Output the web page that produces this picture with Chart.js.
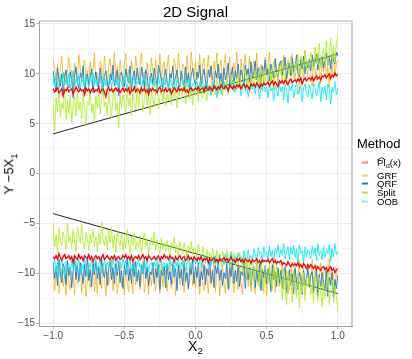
<!DOCTYPE html>
<html>
<head>
<meta charset="utf-8">
<script src="https://cdn.jsdelivr.net/npm/chart.js@4"></script>
<style>
  body { margin: 0; background: #fff; }
  #wrap { position: relative; width: 412px; height: 359px; font-family: "Liberation Sans", Arial, sans-serif; color: #000; }
  #chart { position: absolute; left: 0; top: 0; }
  .lbl { position: absolute; white-space: nowrap; transform: translate(-50%, -50%); }
  #title { left: 195.5px; top: 11px; font-size: 15px; }
  #xtitle { left: 195.5px; top: 347px; font-size: 14px; }
  #ytitle { left: 10px; top: 174px; font-size: 13px; transform: translate(-50%, -50%) rotate(-90deg); }
  #legtitle { left: 357px; top: 143px; font-size: 13px; position: absolute; transform: translateY(-50%); }
  .row { position: absolute; left: 361.5px; font-size: 9.5px; line-height: 11px; transform: translateY(-50%); white-space: nowrap; }
  .key { display: inline-block; width: 6.5px; height: 2px; vertical-align: middle; margin-right: 9px; }
  .hat { position: relative; display: inline-block; }
  .hat::before { content: '^'; position: absolute; left: 0; right: 0; top: -3px; text-align: center; font-size: 8px; transform: scaleX(2.4); }
  sub { font-size: 70%; }
</style>
</head>
<body>
<div id="wrap">
  <canvas id="chart" width="412" height="359"></canvas>
  <div id="title" class="lbl">2D Signal</div>
  <div id="xtitle" class="lbl">X<sub>2</sub></div>
  <div id="ytitle" class="lbl">Y −5X<sub>1</sub></div>
  <div id="legtitle">Method</div>
  <div class="row" style="top:164px"><span class="key" style="background:#F58A8A"></span><span class="hat">PI</span><sub>α</sub>(x)</div>
  <div class="row" style="top:174.5px"><span class="key" style="background:#F7D27F"></span>GRF</div>
  <div class="row" style="top:183px"><span class="key" style="background:#1E78D2"></span>QRF</div>
  <div class="row" style="top:192px"><span class="key" style="background:#B2EE3A"></span>Split</div>
  <div class="row" style="top:200.5px"><span class="key" style="background:#7FF3F7"></span>OOB</div>
</div>
<script>
// x grid
var xs = [-1,-0.99,-0.98,-0.97,-0.96,-0.95,-0.94,-0.93,-0.92,-0.91,
  -0.9,-0.89,-0.88,-0.87,-0.86,-0.85,-0.84,-0.83,-0.82,-0.81,
  -0.8,-0.79,-0.78,-0.77,-0.76,-0.75,-0.74,-0.73,-0.72,-0.71,
  -0.7,-0.69,-0.68,-0.67,-0.66,-0.65,-0.64,-0.63,-0.62,-0.61,
  -0.6,-0.59,-0.58,-0.57,-0.56,-0.55,-0.54,-0.53,-0.52,-0.51,
  -0.5,-0.49,-0.48,-0.47,-0.46,-0.45,-0.44,-0.43,-0.42,-0.41,
  -0.4,-0.39,-0.38,-0.37,-0.36,-0.35,-0.34,-0.33,-0.32,-0.31,
  -0.3,-0.29,-0.28,-0.27,-0.26,-0.25,-0.24,-0.23,-0.22,-0.21,
  -0.2,-0.19,-0.18,-0.17,-0.16,-0.15,-0.14,-0.13,-0.12,-0.11,
  -0.1,-0.09,-0.08,-0.07,-0.06,-0.05,-0.04,-0.03,-0.02,-0.01,
  0,0.01,0.02,0.03,0.04,0.05,0.06,0.07,0.08,0.09,
  0.1,0.11,0.12,0.13,0.14,0.15,0.16,0.17,0.18,0.19,
  0.2,0.21,0.22,0.23,0.24,0.25,0.26,0.27,0.28,0.29,
  0.3,0.31,0.32,0.33,0.34,0.35,0.36,0.37,0.38,0.39,
  0.4,0.41,0.42,0.43,0.44,0.45,0.46,0.47,0.48,0.49,
  0.5,0.51,0.52,0.53,0.54,0.55,0.56,0.57,0.58,0.59,
  0.6,0.61,0.62,0.63,0.64,0.65,0.66,0.67,0.68,0.69,
  0.7,0.71,0.72,0.73,0.74,0.75,0.76,0.77,0.78,0.79,
  0.8,0.81,0.82,0.83,0.84,0.85,0.86,0.87,0.88,0.89,
  0.9,0.91,0.92,0.93,0.94,0.95,0.96,0.97,0.98,0.99,1];

// upper bounds
var piUpper = [8.5,8.2,8.4,8.6,8.1,8.3,8.5,7.8,8.4,8.3,
  8.6,8.2,8.4,8.5,8.0,8.3,8.7,8.4,8.2,8.5,
  8.3,8.4,7.9,8.6,8.3,8.5,8.1,8.4,8.6,8.2,
  8.4,8.3,8.7,8.1,8.4,8.5,8.2,7.7,8.4,8.6,
  8.3,8.5,8.2,8.4,8.6,8.3,8.5,8.1,8.4,8.6,
  8.2,8.5,8.3,8.6,8.0,8.4,8.3,8.7,8.2,8.5,
  8.4,8.1,8.6,8.3,8.5,8.2,8.4,7.9,8.5,8.3,
  8.6,8.3,8.4,8.1,8.5,8.7,8.2,8.4,8.3,8.6,
  8.2,8.4,8.5,8.0,8.3,8.6,8.4,8.2,8.7,8.3,
  8.5,8.3,8.6,8.2,8.4,8.1,8.5,8.6,8.3,8.4,
  8.6,8.4,8.7,8.3,8.5,8.6,8.2,8.7,8.5,8.4,
  8.7,8.5,8.3,8.8,8.6,8.4,8.7,8.5,8.9,8.6,
  8.5,8.8,8.6,8.3,8.9,8.7,8.5,8.8,8.6,8.9,
  8.7,8.9,8.5,8.8,9.0,8.6,8.9,8.7,8.4,9.0,
  8.8,9.0,8.7,9.1,8.9,8.6,9.0,8.8,9.1,8.9,
  9.0,9.2,8.8,9.1,9.3,8.9,9.2,9.0,8.7,9.3,
  9.1,9.3,9.0,9.4,9.2,8.9,9.3,9.5,9.1,9.3,
  9.4,9.2,9.5,9.3,9.6,9.0,9.4,9.6,9.3,9.5,
  9.6,9.4,9.7,9.3,9.6,9.8,9.5,9.7,9.4,9.8,
  9.7,9.9,9.6,9.8,10.0,9.5,9.9,9.7,10.1,9.8,10.0];
var grfUpper = [11.3,10.6,9.4,11.0,8.7,10.2,11.8,9.6,10.1,8.9,
  10.5,11.7,9.8,10.4,8.5,11.1,10.0,9.2,12.0,10.6,
  9.1,10.7,11.4,9.5,10.3,8.8,11.2,9.9,10.5,12.1,
  9.3,10.1,8.9,11.3,10.6,9.0,11.8,10.2,8.6,10.9,
  11.5,9.6,10.3,12.2,9.2,10.7,9.4,11.4,10.1,8.8,
  10.9,12.0,9.7,10.4,8.4,11.3,10.3,9.5,11.8,10.5,
  9.1,10.8,12.1,9.7,10.2,7.9,11.1,10.0,9.4,11.6,
  10.3,8.7,11.4,10.2,9.6,12.0,9.3,10.7,11.2,8.9,
  10.5,11.9,9.4,10.1,8.5,11.5,10.8,9.2,12.1,10.4,
  9.5,11.0,10.6,8.3,11.8,10.1,9.3,12.2,10.6,9.8,
  11.2,9.4,10.5,12.0,8.8,10.9,11.6,9.0,10.3,11.9,
  9.6,10.8,8.2,11.3,10.0,12.1,9.5,10.6,11.4,8.7,
  10.9,12.0,9.1,10.4,11.7,8.9,10.2,11.1,9.7,12.2,
  10.0,8.5,11.5,9.9,10.7,12.0,9.2,10.3,11.8,8.8,
  10.6,11.3,9.4,12.1,10.1,8.6,11.0,10.4,9.0,11.7,
  9.8,10.9,12.2,9.3,10.5,8.4,11.6,10.0,9.5,11.2,
  10.8,9.1,11.9,10.3,8.9,11.4,10.6,9.7,12.0,10.2,
  9.4,11.1,10.5,8.1,11.8,10.2,9.6,12.3,10.7,9.9,
  11.3,10.0,8.8,11.6,10.4,9.3,12.1,10.8,9.0,11.5,
  10.2,11.9,9.5,10.7,8.6,11.4,10.1,12.2,9.8,11.0,11.4];
var qrfUpper = [10.3,9.1,8.2,10.6,9.5,8.8,10.0,7.9,9.7,10.4,
  9.0,8.6,10.2,9.4,7.6,9.9,10.7,9.2,8.5,10.1,
  9.6,10.8,8.3,9.3,10.0,8.9,9.7,10.5,8.1,9.4,
  10.2,9.0,8.7,10.6,9.5,8.0,9.8,10.3,9.1,8.6,
  10.0,9.4,10.9,8.8,9.6,10.4,7.8,9.9,10.2,9.3,
  8.7,10.5,9.6,9.1,10.8,8.4,9.8,10.3,9.0,10.6,
  9.5,8.9,10.7,9.8,8.6,10.4,9.9,8.2,9.2,10.1,
  9.0,10.6,9.7,8.8,10.9,10.2,9.4,8.5,9.8,10.5,
  9.3,8.4,10.0,9.6,10.8,8.9,9.7,10.4,9.1,8.7,
  10.3,9.5,8.6,10.7,9.2,10.1,8.3,9.9,10.6,9.4,
  8.9,10.2,9.6,10.9,8.7,9.8,10.5,9.3,8.5,10.4,
  9.7,10.8,9.1,8.8,10.3,9.6,11.0,9.2,10.1,8.6,
  10.6,9.4,10.0,11.1,9.0,9.8,10.7,8.9,10.3,9.5,
  11.0,9.3,10.4,9.7,8.8,10.9,9.9,10.5,9.2,11.2,
  9.6,10.2,11.3,9.4,10.6,9.9,8.9,10.8,10.1,11.4,
  9.8,10.5,9.3,11.0,10.3,9.6,11.5,10.0,9.7,10.9,
  11.3,9.9,10.6,11.7,9.5,10.4,11.1,9.8,11.6,10.2,
  10.7,11.9,10.1,9.7,11.4,10.5,11.8,10.0,11.2,10.6,
  11.5,10.3,11.9,10.8,11.1,12.0,10.4,11.6,10.9,11.8,
  10.6,11.4,12.1,10.9,11.7,10.5,12.0,11.3,11.0,12.2,11.8];
var splitUpper = [6.9,4.3,7.6,6.2,8.4,5.7,7.1,6.5,8.6,5.4,
  7.4,6.0,7.9,5.1,6.8,7.7,5.8,8.1,6.4,7.2,
  5.5,8.0,6.6,4.9,7.3,6.9,8.5,6.1,7.0,5.3,
  7.8,6.5,8.3,6.0,7.5,8.7,6.7,7.2,5.9,8.2,
  6.8,5.6,7.7,8.6,6.3,7.1,4.6,7.9,6.5,8.0,
  7.2,6.1,8.4,6.8,7.6,5.8,8.2,7.0,6.4,8.7,
  6.6,7.9,8.8,6.2,7.4,8.5,6.9,7.7,5.9,8.3,
  7.5,6.7,8.1,8.9,6.5,7.8,8.6,7.1,8.4,6.8,
  8.0,7.3,8.7,6.9,9.0,7.6,8.3,6.6,8.8,7.7,
  7.4,8.5,9.1,7.0,8.2,8.9,7.5,8.6,6.9,8.4,
  7.9,8.8,7.2,9.3,8.1,7.6,9.0,8.4,7.3,8.9,
  8.6,7.7,9.4,8.2,7.9,9.6,8.0,8.7,9.2,7.8,
  9.0,8.3,9.7,7.9,8.8,9.9,8.4,9.3,8.1,9.6,
  8.7,10.1,9.0,8.5,9.8,10.4,8.9,9.5,8.3,10.0,
  9.4,8.8,10.3,9.7,9.1,10.7,8.7,9.9,10.5,9.2,
  10.0,9.3,10.9,8.9,10.4,11.2,9.6,10.2,9.0,10.8,
  9.8,11.4,10.1,9.5,11.0,10.6,9.9,11.8,10.3,9.7,
  11.1,10.4,12.0,9.9,10.8,11.6,10.2,12.4,10.7,11.3,
  10.5,12.2,11.0,10.3,12.7,11.4,10.9,13.1,10.6,11.8,
  12.5,11.2,13.3,10.8,12.0,13.6,11.5,12.8,11.1,13.0,13.8];
var oobUpper = [9.5,8.8,9.9,9.1,8.4,9.7,9.2,10.2,8.9,9.4,
  9.0,10.0,8.6,9.3,10.3,8.8,9.5,9.1,9.8,8.5,
  9.6,9.2,8.7,9.9,9.4,8.6,9.7,9.1,10.1,8.9,
  9.4,8.7,9.6,9.9,8.5,9.2,9.7,8.8,9.3,9.0,
  9.5,8.6,9.8,9.1,8.9,9.4,8.4,9.6,9.0,8.7,
  9.8,9.0,8.5,9.5,10.1,8.8,9.3,9.7,8.6,9.2,
  9.0,9.6,8.3,9.4,9.9,8.9,9.1,8.6,9.7,9.3,
  8.8,9.5,9.1,8.4,9.8,9.0,8.7,9.6,8.9,9.4,
  9.2,8.5,9.7,9.0,8.6,9.5,8.3,9.3,9.1,8.8,
  9.6,8.9,9.0,8.4,9.4,8.7,9.5,8.2,9.1,8.9,
  8.6,9.3,8.2,9.0,8.7,9.5,8.1,8.9,9.2,8.4,
  8.8,7.9,9.1,8.5,8.9,7.6,8.6,9.2,8.0,8.7,
  9.3,8.5,8.9,8.1,9.0,8.6,9.4,8.2,8.8,8.4,
  8.7,9.1,7.8,8.6,9.3,8.3,8.9,7.7,8.5,9.0,
  8.4,8.9,8.0,9.2,8.6,7.5,8.8,8.3,9.1,8.2,
  8.7,7.6,9.0,8.3,8.6,7.3,8.8,8.4,7.8,9.1,
  8.2,8.7,7.4,8.9,8.5,7.1,8.8,8.3,9.0,7.6,
  8.5,9.2,7.9,8.4,8.8,7.2,8.6,9.0,8.1,7.7,
  8.9,8.3,7.5,9.1,8.6,7.8,8.4,9.3,7.2,8.7,
  8.1,8.8,7.4,9.0,8.5,7.0,8.7,8.2,9.2,7.9,8.6];

// lower bounds
var piLower = [-8.3,-8.5,-8.2,-8.6,-8.0,-8.4,-8.7,-8.3,-8.1,-8.5,
  -8.4,-8.2,-8.6,-8.3,-8.9,-8.2,-8.4,-8.6,-8.1,-8.5,
  -8.3,-8.7,-8.2,-8.4,-8.5,-8.1,-8.6,-8.3,-8.8,-8.4,
  -8.2,-8.5,-8.3,-8.7,-8.4,-8.1,-8.6,-8.4,-8.2,-8.5,
  -8.6,-8.3,-8.5,-8.2,-8.7,-8.4,-8.3,-8.6,-8.5,-8.2,
  -8.4,-8.1,-8.5,-8.3,-8.6,-8.2,-8.8,-8.4,-8.3,-8.5,
  -8.2,-8.6,-8.4,-8.1,-8.5,-8.3,-8.7,-8.2,-8.4,-8.6,
  -8.5,-8.3,-8.6,-8.4,-8.2,-8.7,-8.3,-8.5,-8.1,-8.4,
  -8.3,-8.6,-8.2,-8.5,-8.4,-8.8,-8.3,-8.6,-8.4,-8.2,
  -8.6,-8.4,-8.3,-8.7,-8.5,-8.2,-8.6,-8.4,-8.7,-8.3,
  -8.5,-8.7,-8.4,-8.6,-8.3,-8.8,-8.5,-8.6,-8.4,-8.9,
  -8.5,-8.7,-8.6,-8.4,-8.8,-8.6,-8.9,-8.5,-8.7,-8.6,
  -8.4,-8.7,-8.5,-8.8,-8.6,-8.3,-8.7,-8.6,-8.9,-8.5,
  -8.7,-8.5,-8.8,-8.6,-8.9,-8.5,-8.7,-8.8,-8.6,-9.0,
  -8.6,-8.8,-8.7,-8.5,-8.9,-8.7,-9.0,-8.6,-8.8,-8.7,
  -8.8,-8.6,-8.9,-8.7,-8.5,-8.9,-8.7,-9.0,-8.8,-8.9,
  -8.7,-9.1,-8.9,-9.0,-9.2,-8.8,-9.1,-9.3,-9.0,-9.2,
  -9.0,-9.2,-8.9,-9.3,-9.1,-9.4,-9.0,-9.2,-9.5,-9.1,
  -9.4,-9.1,-9.3,-9.5,-9.2,-9.6,-9.3,-9.5,-9.7,-9.4,
  -9.3,-9.6,-9.4,-9.8,-9.5,-9.3,-9.7,-9.5,-9.9,-9.6,-9.5];
var grfLower = [-9.3,-11.7,-10.2,-8.9,-12.0,-10.6,-9.5,-11.3,-10.0,-12.2,
  -9.1,-10.8,-11.6,-9.7,-10.3,-12.1,-8.8,-11.0,-10.5,-9.4,
  -11.9,-10.1,-9.6,-12.3,-10.7,-9.2,-11.4,-10.4,-8.7,-11.8,
  -10.0,-12.0,-9.5,-10.9,-11.5,-9.0,-10.6,-12.2,-9.8,-11.1,
  -10.3,-8.6,-11.7,-10.1,-9.4,-12.0,-10.8,-9.1,-11.3,-10.5,
  -12.1,-9.6,-10.9,-11.8,-9.2,-10.4,-12.0,-8.9,-11.1,-10.2,
  -9.7,-11.6,-10.3,-8.8,-11.9,-10.6,-9.3,-12.1,-10.0,-11.2,
  -9.5,-10.8,-11.7,-9.1,-10.4,-12.0,-8.7,-11.3,-10.1,-9.6,
  -11.8,-10.2,-8.9,-11.5,-10.7,-9.3,-12.2,-10.4,-9.0,-11.1,
  -10.6,-8.5,-11.9,-10.0,-9.4,-11.6,-10.3,-8.8,-11.2,-9.9,
  -11.4,-9.8,-10.5,-12.1,-9.0,-10.8,-11.7,-9.3,-10.2,-12.0,
  -9.6,-11.1,-10.4,-8.6,-11.8,-10.0,-9.4,-12.2,-10.7,-9.1,
  -10.9,-12.0,-9.5,-10.3,-11.5,-8.8,-10.6,-11.9,-9.7,-10.2,
  -11.6,-9.2,-10.8,-12.1,-9.9,-10.4,-8.7,-11.3,-10.1,-11.8,
  -9.4,-10.7,-12.0,-9.0,-11.2,-10.5,-8.9,-11.7,-10.3,-9.6,
  -12.2,-10.1,-9.3,-11.4,-10.8,-8.6,-11.9,-10.0,-9.5,-11.3,
  -10.4,-8.8,-11.6,-10.2,-9.7,-12.1,-10.6,-9.1,-11.0,-10.3,
  -9.2,-11.8,-10.5,-8.7,-11.3,-10.0,-9.4,-12.0,-10.8,-9.5,
  -11.1,-10.3,-8.6,-11.7,-10.1,-9.2,-11.9,-10.6,-8.9,-11.4,
  -10.0,-9.3,-11.5,-10.7,-8.5,-11.2,-9.8,-10.4,-11.8,-9.6,-10.7];
var qrfLower = [-8.9,-10.5,-9.3,-11.2,-8.6,-9.8,-10.9,-9.0,-9.5,-11.1,
  -8.7,-10.2,-9.4,-11.4,-9.7,-8.5,-10.6,-9.2,-10.8,-8.9,
  -9.8,-11.0,-9.1,-10.3,-8.3,-10.7,-9.6,-11.3,-9.0,-10.1,
  -8.8,-10.5,-9.3,-11.1,-8.6,-9.9,-10.4,-9.1,-11.2,-9.5,
  -8.7,-10.6,-9.4,-11.0,-9.0,-10.2,-8.8,-10.9,-9.7,-11.5,
  -9.2,-10.1,-8.4,-10.7,-9.5,-11.0,-9.0,-10.3,-8.8,-10.8,
  -9.6,-11.3,-9.1,-10.0,-8.6,-10.5,-9.4,-11.2,-9.8,-10.1,
  -8.9,-11.0,-9.5,-10.4,-9.1,-11.6,-9.7,-10.2,-9.3,-11.4,
  -9.0,-10.6,-9.8,-11.1,-8.8,-10.3,-9.5,-11.7,-9.2,-10.5,
  -9.6,-11.2,-9.0,-10.8,-9.9,-11.5,-9.4,-10.1,-8.7,-11.0,
  -9.3,-10.4,-8.9,-11.3,-9.8,-10.6,-9.1,-11.1,-9.5,-10.2,
  -8.6,-10.9,-9.7,-11.4,-9.2,-10.0,-8.8,-10.7,-9.6,-11.2,
  -9.9,-10.5,-9.0,-11.6,-9.4,-10.3,-8.9,-11.0,-9.7,-10.8,
  -9.1,-11.3,-9.8,-10.2,-8.7,-11.5,-9.5,-10.6,-9.2,-11.1,
  -10.0,-9.3,-11.4,-9.7,-10.8,-9.0,-11.7,-9.6,-10.4,-9.2,
  -11.0,-9.5,-10.3,-11.8,-9.1,-10.6,-9.8,-11.3,-9.4,-10.9,
  -9.7,-11.5,-10.1,-9.3,-11.9,-10.4,-9.6,-11.2,-10.0,-12.0,
  -9.5,-10.7,-11.6,-9.9,-10.3,-12.1,-9.7,-11.0,-10.5,-9.4,
  -11.4,-10.2,-9.8,-11.9,-10.6,-9.6,-12.2,-10.1,-11.3,-9.9,
  -10.8,-11.7,-9.7,-12.3,-10.4,-11.1,-9.9,-12.4,-10.6,-11.5,-10.2];
var splitLower = [-5.1,-7.3,-6.1,-7.9,-5.4,-6.7,-7.2,-5.8,-6.5,-7.6,
  -4.9,-6.9,-6.3,-7.4,-5.6,-6.6,-7.8,-5.3,-6.2,-7.0,
  -5.0,-6.8,-7.5,-5.9,-6.4,-7.7,-6.0,-6.9,-5.5,-7.3,
  -6.3,-7.8,-6.0,-7.1,-4.8,-6.5,-7.2,-6.2,-7.6,-5.7,
  -6.9,-5.4,-7.4,-6.1,-7.9,-5.8,-6.7,-7.3,-6.0,-7.7,
  -6.4,-7.5,-5.6,-7.0,-8.0,-6.3,-7.2,-5.9,-7.6,-6.8,
  -7.4,-6.2,-7.9,-6.8,-5.9,-7.3,-6.5,-8.1,-7.0,-6.4,
  -7.1,-5.8,-7.7,-6.6,-7.3,-8.0,-6.4,-7.5,-6.9,-7.8,
  -6.7,-7.6,-8.2,-6.9,-7.4,-6.3,-7.9,-7.1,-8.3,-6.8,
  -7.5,-8.0,-6.9,-7.7,-8.4,-7.2,-7.9,-6.8,-8.1,-7.4,
  -7.6,-8.3,-7.0,-7.8,-8.6,-7.3,-8.1,-9.0,-7.6,-8.4,
  -7.9,-8.8,-7.4,-8.2,-9.1,-7.7,-8.5,-8.0,-9.3,-7.8,
  -8.3,-9.0,-7.6,-8.6,-9.4,-8.1,-8.8,-7.9,-9.2,-8.4,
  -9.2,-7.9,-8.6,-9.8,-8.2,-8.9,-10.4,-8.4,-9.3,-11.0,
  -8.7,-9.6,-10.6,-8.5,-9.9,-11.4,-9.0,-10.2,-12.0,-9.3,
  -9.8,-10.9,-8.9,-10.3,-11.7,-9.4,-10.6,-9.1,-11.2,-10.0,
  -10.6,-12.6,-9.5,-10.9,-13.1,-9.8,-11.6,-10.3,-12.9,-9.7,
  -11.2,-12.4,-10.0,-13.4,-10.8,-11.9,-9.9,-12.7,-10.5,-11.3,
  -10.1,-12.1,-11.0,-13.0,-9.8,-11.6,-12.8,-10.4,-11.8,-13.3,
  -10.9,-12.5,-11.4,-9.9,-13.1,-11.7,-10.6,-12.9,-11.2,-12.2,-13.8];
var oobLower = [-9.4,-8.6,-9.9,-8.9,-10.3,-9.1,-8.5,-9.6,-10.4,-8.8,
  -9.3,-9.0,-10.0,-8.7,-9.5,-8.3,-9.8,-9.2,-8.6,-10.1,
  -9.0,-9.6,-8.4,-9.3,-10.2,-8.9,-9.4,-8.7,-9.8,-9.1,
  -8.5,-9.7,-9.0,-8.8,-10.0,-9.2,-8.6,-9.5,-8.9,-9.3,
  -8.7,-9.6,-8.4,-9.2,-9.9,-8.6,-9.1,-8.8,-9.5,-8.5,
  -9.2,-8.7,-10.1,-9.0,-8.5,-9.7,-9.3,-8.8,-10.2,-9.1,
  -8.6,-9.4,-9.0,-10.0,-8.7,-9.5,-8.3,-9.8,-9.1,-8.9,
  -9.5,-8.8,-9.3,-8.4,-9.9,-9.0,-8.6,-9.7,-8.9,-9.4,
  -9.0,-9.6,-8.5,-9.2,-8.8,-10.1,-8.7,-9.3,-8.4,-9.6,
  -8.8,-9.3,-8.6,-9.7,-9.0,-8.4,-9.5,-8.9,-9.2,-8.5,
  -9.0,-8.3,-9.3,-8.7,-8.9,-9.4,-8.1,-8.8,-8.5,-9.1,
  -8.6,-9.2,-8.4,-9.0,-8.2,-8.9,-9.4,-8.1,-8.7,-8.5,
  -9.1,-8.0,-8.7,-8.4,-9.2,-7.8,-8.6,-9.0,-8.3,-8.8,
  -7.9,-8.6,-8.3,-9.0,-7.7,-8.4,-8.8,-7.6,-8.5,-8.2,
  -8.9,-7.5,-8.1,-8.7,-7.4,-8.0,-7.8,-8.9,-7.3,-8.2,
  -7.9,-8.6,-7.2,-8.3,-7.7,-8.8,-7.5,-8.0,-7.1,-8.4,
  -7.6,-8.2,-7.0,-8.5,-7.8,-7.3,-8.6,-7.4,-8.1,-7.2,
  -8.4,-7.5,-8.8,-7.1,-8.0,-7.7,-8.9,-7.3,-8.3,-7.6,
  -7.8,-8.5,-7.2,-8.1,-7.4,-8.7,-7.0,-8.2,-7.7,-8.6,
  -7.3,-8.4,-7.6,-8.0,-7.1,-8.8,-7.5,-8.3,-7.0,-8.1,-7.8];

// true quantile lines
var trueX = [-1, 1];
var trueUpper = [4, 12];
var trueLower = [-4, -12];

var xTicks = [-1, -0.75, -0.5, -0.25, 0, 0.25, 0.5, 0.75, 1];
var yTicks = [-15, -12.5, -10, -7.5, -5, -2.5, 0, 2.5, 5, 7.5, 10, 12.5, 15];

function pts(xv, yv) {
    return xv.map(function(x, i) { return { x: x, y: yv[i] }; });
}

function series(data, color, width) {
    return {
        data: data,
        borderColor: color,
        borderWidth: width,
        pointRadius: 0,
        tension: 0,
        fill: false
    };
}

function fmt(v) {
    return String(v.toFixed(1)).replace('-', '\u2212');
}

var red = '#FF0000';
var cyan = 'rgba(0, 235, 245, 0.85)';
var green = 'rgba(173, 238, 40, 0.85)';
var blue = 'rgba(24, 116, 205, 0.85)';
var orange = 'rgba(240, 170, 0, 0.7)';

// drawn last-to-first, so the first datasets end up on top
var datasets = [
    series(pts(xs, piUpper), red, 1.3),
    series(pts(xs, piLower), red, 1.3),
    series(pts(xs, oobUpper), cyan, 1),
    series(pts(xs, oobLower), cyan, 1),
    series(pts(xs, splitUpper), green, 1),
    series(pts(xs, splitLower), green, 1),
    series(pts(xs, qrfUpper), blue, 1),
    series(pts(xs, qrfLower), blue, 1),
    series(pts(xs, grfUpper), orange, 1),
    series(pts(xs, grfLower), orange, 1),
    series(pts(trueX, trueUpper), '#222', 1),
    series(pts(trueX, trueLower), '#222', 1)
];

// top and right panel border
var panelBorder = {
    id: 'panelBorder',
    afterDraw: function(chart) {
        var a = chart.chartArea, c = chart.ctx;
        c.save();
        c.strokeStyle = '#B3B3B3';
        c.lineWidth = 1.2;
        c.beginPath();
        c.moveTo(a.left, a.top);
        c.lineTo(a.right, a.top);
        c.lineTo(a.right, a.bottom);
        c.stroke();
        c.restore();
    }
};

var ctx = document.getElementById('chart').getContext('2d');
new Chart(ctx, {
    type: 'line',
    data: { datasets: datasets },
    options: {
        responsive: false,
        animation: false,
        layout: { padding: { left: 0, top: 21, right: 60, bottom: 0 } },
        plugins: { legend: { display: false }, tooltip: { enabled: false } },
        scales: {
            x: {
                type: 'linear',
                min: -1.1,
                max: 1.1,
                afterBuildTicks: function(s) { s.ticks = xTicks.map(function(v) { return { value: v }; }); },
                afterFit: function(s) { s.height = 33; },
                ticks: {
                    autoSkip: false,
                    maxRotation: 0,
                    padding: 1,
                    color: '#4D4D4D',
                    font: { family: 'Liberation Sans', size: 10 },
                    callback: function(v) { return v % 0.5 === 0 ? fmt(v) : ''; }
                },
                grid: {
                    color: function(c) { return c.tick && c.tick.value % 0.5 === 0 ? '#EBEBEB' : '#F6F6F6'; },
                    tickColor: function(c) { return c.tick && c.tick.value % 0.5 === 0 ? '#B3B3B3' : 'rgba(0,0,0,0)'; },
                    tickLength: 3
                },
                border: { display: true, color: '#A0A0A0', width: 1 }
            },
            y: {
                min: -15.25,
                max: 15.3,
                afterBuildTicks: function(s) { s.ticks = yTicks.map(function(v) { return { value: v }; }); },
                afterFit: function(s) { s.width = 39; },
                ticks: {
                    autoSkip: false,
                    padding: 1,
                    color: '#4D4D4D',
                    font: { family: 'Liberation Sans', size: 10 },
                    callback: function(v) { return v % 5 === 0 ? String(v).replace('-', '\u2212') : ''; }
                },
                grid: {
                    color: function(c) { return c.tick && c.tick.value % 5 === 0 ? '#EBEBEB' : '#F6F6F6'; },
                    tickColor: function(c) { return c.tick && c.tick.value % 5 === 0 ? '#B3B3B3' : 'rgba(0,0,0,0)'; },
                    tickLength: 3
                },
                border: { display: true, color: '#A0A0A0', width: 1 }
            }
        }
    },
    plugins: [panelBorder]
});
</script>
</body>
</html>
